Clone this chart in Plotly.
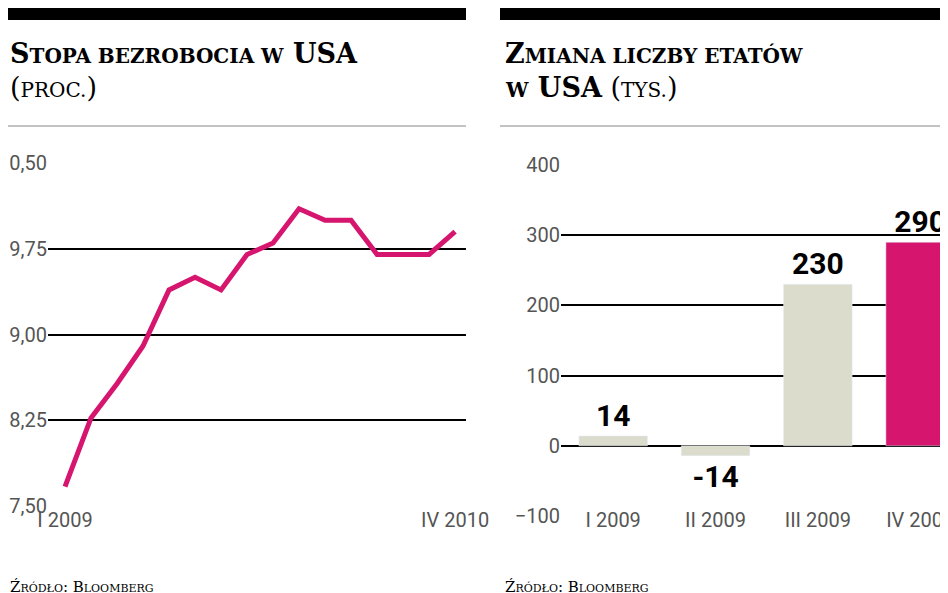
import plotly.graph_objects as go

months = list(range(16))
unemp = [7.67, 8.27, 8.57, 8.9, 9.39, 9.5, 9.39, 9.7, 9.8, 10.1, 10.0, 10.0, 9.7, 9.7, 9.7, 9.9]
left_ticks = [7.5, 8.25, 9.0, 9.75, 10.5]
left_tick_labels = ["7,50", "8,25", "9,00", "9,75", "10,50"]
left_x_labels = ["I 2009", "IV 2010"]

quarters = ["I 2009", "II 2009", "III 2009", "IV 2009"]
jobs = [14, -14, 230, 290]
bar_colors = ["#dcdccc", "#dcdccc", "#dcdccc", "#d6156f"]

W, H = 948, 593
def py(p): return 1 - p / H
def px(p): return p / W

fig = go.Figure()
fig.add_trace(go.Scatter(x=months, y=unemp, mode="lines",
                         line=dict(color="#d6156f", width=5), xaxis="x", yaxis="y"))
fig.add_trace(go.Bar(x=list(range(4)), y=jobs, marker_color=bar_colors, width=0.67,
                     text=[f"<b>{v}</b>" for v in jobs], textposition="outside",
                     textfont=dict(size=30, color="black", family="Liberation Sans Narrow, Roboto"),
                     cliponaxis=False, xaxis="x2", yaxis="y2"))

tickfont = dict(size=20, color="#555", family="Liberation Sans Narrow, Roboto")
fig.update_layout(
    width=W, height=H, margin=dict(l=0, r=0, t=0, b=0, autoexpand=False), showlegend=False,
    paper_bgcolor="white", plot_bgcolor="white",
    xaxis=dict(domain=[px(40), px(458)], range=[-0.654, 15.42], tickvals=[0, 15],
               ticktext=left_x_labels, showgrid=False, zeroline=False, tickfont=tickfont, ticks="",
               automargin=False),
    yaxis=dict(domain=[py(498), py(155)], range=[7.5, 10.5], tickvals=left_ticks,
               ticktext=left_tick_labels, showgrid=True, gridcolor="black", gridwidth=1.5,
               zeroline=False, tickfont=tickfont, ticks="", automargin=False),
    xaxis2=dict(domain=[px(553), 1], range=[-0.51, 3.35], tickvals=list(range(4)),
                ticktext=quarters, showgrid=False, zeroline=False, tickfont=tickfont, ticks="",
                automargin=False),
    yaxis2=dict(domain=[py(508), py(157)], range=[-100, 400], dtick=100, anchor="x2",
                showgrid=True, gridcolor="black", gridwidth=1.5, zeroline=False,
                tickfont=tickfont, ticks="", automargin=False),
)

shapes = [
    dict(type="rect", xref="paper", yref="paper", x0=0, x1=px(458), y0=py(12), y1=1,
         fillcolor="black", line_width=0),
    dict(type="rect", xref="paper", yref="paper", x0=px(492), x1=1, y0=py(12), y1=1,
         fillcolor="black", line_width=0),
    dict(type="line", xref="paper", yref="paper", x0=0, x1=px(458), y0=py(118), y1=py(118),
         line=dict(color="#888", width=1)),
    dict(type="line", xref="paper", yref="paper", x0=px(492), x1=1, y0=py(118), y1=py(118),
         line=dict(color="#888", width=1)),
]
fig.update_layout(shapes=shapes)

tf = dict(family="DejaVu Serif", size=27, color="black")
sc = "font-size:20px"
anns = [
    dict(x=0, y=py(28), text=f"<b>S<span style='{sc}'>TOPA BEZROBOCIA W</span> USA</b>"),
    dict(x=0, y=py(62), text=f"(<span style='{sc}'>PROC.</span>)"),
    dict(x=px(495), y=py(28), text=f"<b>Z<span style='{sc}'>MIANA LICZBY ETATÓW</span></b>"),
    dict(x=px(495), y=py(62), text=f"<b><span style='{sc}'>W</span> USA</b> (<span style='{sc}'>TYS.</span>)"),
]
for a in anns:
    fig.add_annotation(xref="paper", yref="paper", xanchor="left", yanchor="top",
                       showarrow=False, font=tf, **a)
srcf = dict(family="DejaVu Serif", size=15, color="black")
for x in [0, px(495)]:
    fig.add_annotation(xref="paper", yref="paper", x=x, y=py(568), xanchor="left", yanchor="top",
                       showarrow=False, font=srcf,
                       text="Ź<span style='font-size:11px'>RÓDŁO</span>: B<span style='font-size:11px'>LOOMBERG</span>")

fig.write_html("out.html")
